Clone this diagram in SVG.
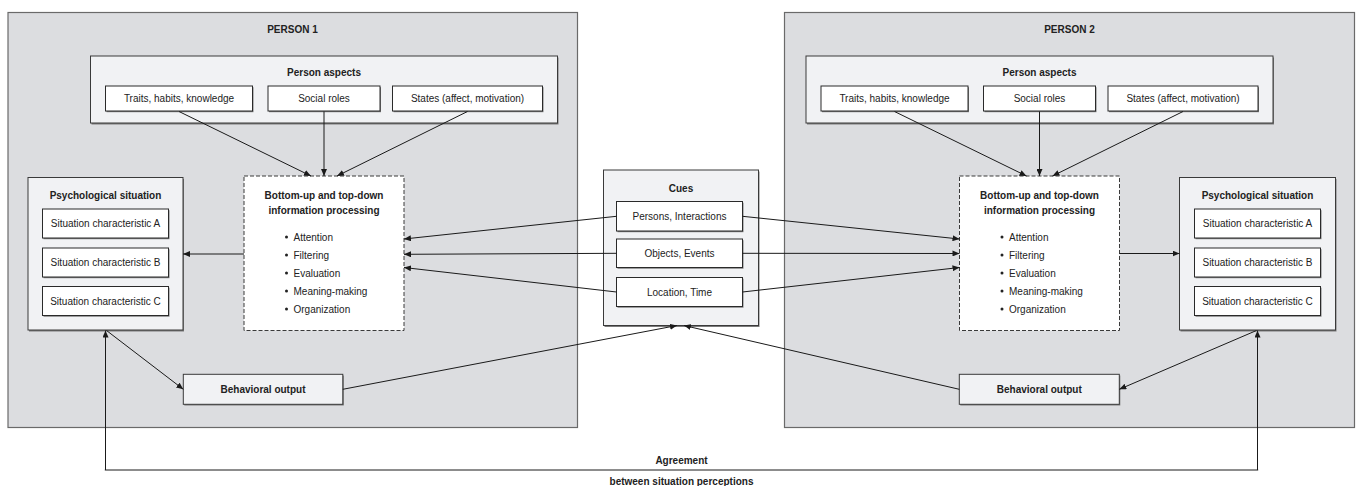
<svg xmlns="http://www.w3.org/2000/svg" width="1359" height="486" viewBox="0 0 1359 486">
<style>
text{font-family:"Liberation Sans",Arial,sans-serif;font-size:10px;fill:#222;text-anchor:middle}
.b{font-weight:bold}
.l{text-anchor:start}
.person{fill:#dcdde0;stroke:#6a6a6a;stroke-width:1.2}
.panel{fill:#f1f2f4;stroke:#3a3a3a;stroke-width:1}
.box{fill:#fff;stroke:#2a2a2a;stroke-width:1}
.sh{fill:#7a7a7a;stroke:none}
.proc{fill:#fff;stroke:#3a3a3a;stroke-width:1;stroke-dasharray:4 2}
.c{stroke:#1a1a1a;stroke-width:1;fill:none}
.bul{fill:#222}
</style>
<defs>
<marker id="ah" markerUnits="userSpaceOnUse" markerWidth="8" markerHeight="6" refX="7" refY="3" orient="auto">
<path d="M0,0 L7,3 L0,6 z" fill="#1a1a1a"/>
</marker>
</defs>
<rect width="1359" height="486" fill="#fff"/>

<g id="person1">
<rect class="person" x="8" y="12.5" width="569.5" height="415"/>
<text class="b" x="292.5" y="33">PERSON 1</text>
</g>
<g id="person2">
<rect class="person" x="784.5" y="12.5" width="570" height="415"/>
<text class="b" x="1069.5" y="33">PERSON 2</text>
</g>

<g id="aspects1">
<rect class="sh" x="91.5" y="57.5" width="467" height="67"/>
<rect class="panel" x="90.5" y="56" width="467" height="67"/>
<text class="b" x="324" y="76.3">Person aspects</text>
</g>
<g id="traits1">
<rect class="sh" x="106.5" y="87.2" width="147" height="25"/>
<rect class="box" x="105.5" y="86" width="147" height="25"/>
<text x="179" y="102.3">Traits, habits, knowledge</text>
</g>
<g id="roles1">
<rect class="sh" x="269" y="87.2" width="112" height="25"/>
<rect class="box" x="268" y="86" width="112" height="25"/>
<text x="324" y="102.3">Social roles</text>
</g>
<g id="states1">
<rect class="sh" x="393.5" y="87.2" width="150" height="25"/>
<rect class="box" x="392.5" y="86" width="150" height="25"/>
<text x="467.5" y="102.3">States (affect, motivation)</text>
</g>

<g id="aspects2">
<rect class="sh" x="807" y="57.5" width="467" height="67"/>
<rect class="panel" x="806" y="56" width="467" height="67"/>
<text class="b" x="1039.5" y="76.3">Person aspects</text>
</g>
<g id="traits2">
<rect class="sh" x="822" y="87.2" width="147" height="25"/>
<rect class="box" x="821" y="86" width="147" height="25"/>
<text x="894.5" y="102.3">Traits, habits, knowledge</text>
</g>
<g id="roles2">
<rect class="sh" x="984.5" y="87.2" width="112" height="25"/>
<rect class="box" x="983.5" y="86" width="112" height="25"/>
<text x="1039.5" y="102.3">Social roles</text>
</g>
<g id="states2">
<rect class="sh" x="1109" y="87.2" width="150" height="25"/>
<rect class="box" x="1108" y="86" width="150" height="25"/>
<text x="1183" y="102.3">States (affect, motivation)</text>
</g>

<g id="processing1">
<rect class="proc" x="244" y="176" width="160" height="154.5"/>
<text class="b" x="324" y="198.6">Bottom-up and top-down</text>
<text class="b" x="324" y="214.3">information processing</text>
<circle class="bul" cx="286.5" cy="237" r="1.5"/><text class="l" x="293.5" y="240.6">Attention</text>
<circle class="bul" cx="286.5" cy="255" r="1.5"/><text class="l" x="293.5" y="258.6">Filtering</text>
<circle class="bul" cx="286.5" cy="273" r="1.5"/><text class="l" x="293.5" y="276.6">Evaluation</text>
<circle class="bul" cx="286.5" cy="291" r="1.5"/><text class="l" x="293.5" y="294.6">Meaning-making</text>
<circle class="bul" cx="286.5" cy="309" r="1.5"/><text class="l" x="293.5" y="312.6">Organization</text>
</g>
<g id="processing2">
<rect class="proc" x="959.5" y="176" width="160" height="154.5"/>
<text class="b" x="1039.5" y="198.6">Bottom-up and top-down</text>
<text class="b" x="1039.5" y="214.3">information processing</text>
<circle class="bul" cx="1002" cy="237" r="1.5"/><text class="l" x="1009" y="240.6">Attention</text>
<circle class="bul" cx="1002" cy="255" r="1.5"/><text class="l" x="1009" y="258.6">Filtering</text>
<circle class="bul" cx="1002" cy="273" r="1.5"/><text class="l" x="1009" y="276.6">Evaluation</text>
<circle class="bul" cx="1002" cy="291" r="1.5"/><text class="l" x="1009" y="294.6">Meaning-making</text>
<circle class="bul" cx="1002" cy="309" r="1.5"/><text class="l" x="1009" y="312.6">Organization</text>
</g>

<g id="psych1">
<rect class="sh" x="29" y="179" width="155" height="152.5"/>
<rect class="panel" x="28" y="177.5" width="155" height="152.5"/>
<text class="b" x="105.5" y="199">Psychological situation</text>
</g>
<g id="sitA1">
<rect class="sh" x="43.5" y="210.2" width="126" height="29"/>
<rect class="box" x="42.5" y="209" width="126" height="29"/>
<text x="105.5" y="227.1">Situation characteristic A</text>
</g>
<g id="sitB1">
<rect class="sh" x="43.5" y="249.2" width="126" height="29"/>
<rect class="box" x="42.5" y="248" width="126" height="29"/>
<text x="105.5" y="266.1">Situation characteristic B</text>
</g>
<g id="sitC1">
<rect class="sh" x="43.5" y="287.7" width="126" height="29"/>
<rect class="box" x="42.5" y="286.5" width="126" height="29"/>
<text x="105.5" y="304.6">Situation characteristic C</text>
</g>

<g id="psych2">
<rect class="sh" x="1180.5" y="179" width="156" height="152.5"/>
<rect class="panel" x="1179.5" y="177.5" width="156" height="152.5"/>
<text class="b" x="1257.5" y="199">Psychological situation</text>
</g>
<g id="sitA2">
<rect class="sh" x="1195.5" y="210.2" width="126" height="29"/>
<rect class="box" x="1194.5" y="209" width="126" height="29"/>
<text x="1257.5" y="227.1">Situation characteristic A</text>
</g>
<g id="sitB2">
<rect class="sh" x="1195.5" y="249.2" width="126" height="29"/>
<rect class="box" x="1194.5" y="248" width="126" height="29"/>
<text x="1257.5" y="266.1">Situation characteristic B</text>
</g>
<g id="sitC2">
<rect class="sh" x="1195.5" y="287.7" width="126" height="29"/>
<rect class="box" x="1194.5" y="286.5" width="126" height="29"/>
<text x="1257.5" y="304.6">Situation characteristic C</text>
</g>

<g id="cues">
<rect class="sh" x="604.5" y="171.5" width="155" height="155.5"/>
<rect class="panel" x="603.5" y="170" width="155" height="155.5"/>
<text class="b" x="681" y="192">Cues</text>
</g>
<g id="cuePersons">
<rect class="sh" x="617.5" y="202.7" width="126" height="29.5"/>
<rect class="box" x="616.5" y="201.5" width="126" height="29.5"/>
<text x="679.5" y="219.9">Persons, Interactions</text>
</g>
<g id="cueObjects">
<rect class="sh" x="617.5" y="240.2" width="126" height="28.5"/>
<rect class="box" x="616.5" y="239" width="126" height="28.5"/>
<text x="679.5" y="256.9">Objects, Events</text>
</g>
<g id="cueLocation">
<rect class="sh" x="617.5" y="278.7" width="126" height="29"/>
<rect class="box" x="616.5" y="277.5" width="126" height="29"/>
<text x="679.5" y="295.6">Location, Time</text>
</g>

<g id="behavior1">
<rect class="sh" x="184.3" y="375.5" width="159.5" height="30"/>
<rect class="panel" x="183.3" y="374.3" width="159.5" height="30"/>
<text class="b" x="263" y="392.9">Behavioral output</text>
</g>
<g id="behavior2">
<rect class="sh" x="960.3" y="375.5" width="160" height="30"/>
<rect class="panel" x="959.3" y="374.3" width="160" height="30"/>
<text class="b" x="1039.3" y="392.9">Behavioral output</text>
</g>

<g id="connectors">
<line class="c" x1="179" y1="111.5" x2="311" y2="176" marker-end="url(#ah)"/>
<line class="c" x1="324" y1="111.5" x2="324" y2="176" marker-end="url(#ah)"/>
<line class="c" x1="467.5" y1="111.5" x2="337" y2="176" marker-end="url(#ah)"/>
<line class="c" x1="894.5" y1="111.5" x2="1026.5" y2="176" marker-end="url(#ah)"/>
<line class="c" x1="1039.5" y1="111.5" x2="1039.5" y2="176" marker-end="url(#ah)"/>
<line class="c" x1="1183" y1="111.5" x2="1052.5" y2="176" marker-end="url(#ah)"/>
<line class="c" x1="244" y1="254" x2="183" y2="254" marker-end="url(#ah)"/>
<line class="c" x1="1119.5" y1="253.5" x2="1179.5" y2="253.5" marker-end="url(#ah)"/>
<line class="c" x1="616.5" y1="216.3" x2="404" y2="239" marker-end="url(#ah)"/>
<line class="c" x1="616.5" y1="253.3" x2="404" y2="254.3" marker-end="url(#ah)"/>
<line class="c" x1="616.5" y1="292" x2="404" y2="267.5" marker-end="url(#ah)"/>
<line class="c" x1="742.5" y1="216.3" x2="959.5" y2="239" marker-end="url(#ah)"/>
<line class="c" x1="742.5" y1="253.3" x2="959.5" y2="253.5" marker-end="url(#ah)"/>
<line class="c" x1="742.5" y1="292" x2="959.5" y2="267.5" marker-end="url(#ah)"/>
<line class="c" x1="342.8" y1="389.3" x2="677" y2="325.5" marker-end="url(#ah)"/>
<line class="c" x1="959.3" y1="389.3" x2="684" y2="325.5" marker-end="url(#ah)"/>
<line class="c" x1="106.5" y1="330.5" x2="183.3" y2="389.3" marker-end="url(#ah)"/>
<line class="c" x1="1256.5" y1="330.5" x2="1119.3" y2="389.3" marker-end="url(#ah)"/>
<line class="c" x1="105.5" y1="470" x2="105.5" y2="330.5" stroke-width="1.5" marker-end="url(#ah)"/>
<line class="c" x1="1257.5" y1="470" x2="1257.5" y2="330.5" stroke-width="1.5" marker-end="url(#ah)"/>
<line class="c" x1="104.8" y1="470" x2="1258.2" y2="470" stroke-width="2.4"/>
<text class="b" x="681.5" y="464.3">Agreement</text>
<text class="b" x="681.5" y="485.3">between situation perceptions</text>
</g>
</svg>
